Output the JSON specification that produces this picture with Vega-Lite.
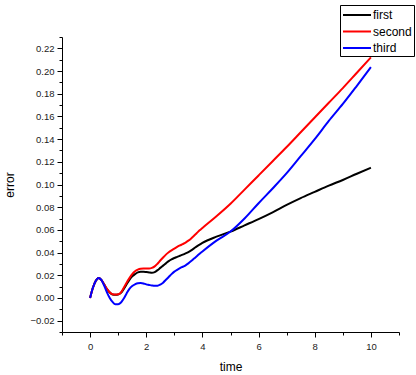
{
  "$schema": "https://vega.github.io/schema/vega-lite/v6.json",
  "width": 337,
  "height": 295,
  "autosize": "none",
  "padding": {"left": 62, "top": 37, "right": 17, "bottom": 43},
  "background": "white",
  "config": {"view": {"stroke": null}, "font": "Liberation Sans"},
  "data": {"values": [
    {"t": 0, "first": 0, "second": 0, "third": 0},
    {"t": 0.1, "first": 0.009, "second": 0.009, "third": 0.009},
    {"t": 0.2, "first": 0.015, "second": 0.015, "third": 0.015},
    {"t": 0.3, "first": 0.0177, "second": 0.0177, "third": 0.0177},
    {"t": 0.4, "first": 0.016, "second": 0.016, "third": 0.016},
    {"t": 0.5, "first": 0.012, "second": 0.012, "third": 0.011},
    {"t": 0.6, "first": 0.0078, "second": 0.008, "third": 0.005},
    {"t": 0.7, "first": 0.0048, "second": 0.005, "third": 0.0},
    {"t": 0.8, "first": 0.003, "second": 0.0033, "third": -0.0035},
    {"t": 0.9, "first": 0.0028, "second": 0.003, "third": -0.0055},
    {"t": 1.0, "first": 0.003, "second": 0.0032, "third": -0.0055},
    {"t": 1.1, "first": 0.0045, "second": 0.005, "third": -0.004},
    {"t": 1.2, "first": 0.008, "second": 0.009, "third": -0.0005},
    {"t": 1.3, "first": 0.012, "second": 0.0135, "third": 0.004},
    {"t": 1.4, "first": 0.016, "second": 0.0175, "third": 0.008},
    {"t": 1.5, "first": 0.019, "second": 0.021, "third": 0.0105},
    {"t": 1.6, "first": 0.021, "second": 0.0235, "third": 0.012},
    {"t": 1.7, "first": 0.0225, "second": 0.025, "third": 0.013},
    {"t": 1.8, "first": 0.023, "second": 0.0258, "third": 0.0132},
    {"t": 1.9, "first": 0.023, "second": 0.026, "third": 0.0128},
    {"t": 2.0, "first": 0.0228, "second": 0.026, "third": 0.012},
    {"t": 2.1, "first": 0.0225, "second": 0.026, "third": 0.0115},
    {"t": 2.2, "first": 0.0222, "second": 0.0265, "third": 0.011},
    {"t": 2.3, "first": 0.0228, "second": 0.0278, "third": 0.0107},
    {"t": 2.4, "first": 0.0245, "second": 0.0302, "third": 0.0108},
    {"t": 2.5, "first": 0.0265, "second": 0.033, "third": 0.0118},
    {"t": 2.6, "first": 0.0285, "second": 0.0357, "third": 0.0135},
    {"t": 2.7, "first": 0.0305, "second": 0.0382, "third": 0.016},
    {"t": 2.8, "first": 0.0325, "second": 0.0403, "third": 0.0185},
    {"t": 2.9, "first": 0.034, "second": 0.042, "third": 0.021},
    {"t": 3.0, "first": 0.0352, "second": 0.0435, "third": 0.0232},
    {"t": 3.1, "first": 0.0362, "second": 0.045, "third": 0.0248},
    {"t": 3.2, "first": 0.0372, "second": 0.0463, "third": 0.0262},
    {"t": 3.3, "first": 0.0382, "second": 0.0475, "third": 0.0275},
    {"t": 3.4, "first": 0.0393, "second": 0.0488, "third": 0.0288},
    {"t": 3.5, "first": 0.0405, "second": 0.0505, "third": 0.0305},
    {"t": 3.6, "first": 0.042, "second": 0.0525, "third": 0.0325},
    {"t": 3.7, "first": 0.0437, "second": 0.0548, "third": 0.0347},
    {"t": 3.8, "first": 0.0455, "second": 0.0572, "third": 0.0368},
    {"t": 3.9, "first": 0.047, "second": 0.0596, "third": 0.039},
    {"t": 4.0, "first": 0.0485, "second": 0.0617, "third": 0.041},
    {"t": 4.5, "first": 0.054, "second": 0.072, "third": 0.0505},
    {"t": 5.0, "first": 0.0585, "second": 0.083, "third": 0.0585},
    {"t": 5.5, "first": 0.064, "second": 0.0955, "third": 0.07},
    {"t": 6.0, "first": 0.0695, "second": 0.108, "third": 0.0835},
    {"t": 6.5, "first": 0.0755, "second": 0.1205, "third": 0.0965},
    {"t": 7.0, "first": 0.082, "second": 0.133, "third": 0.11},
    {"t": 7.5, "first": 0.088, "second": 0.146, "third": 0.125},
    {"t": 8.0, "first": 0.0935, "second": 0.159, "third": 0.14},
    {"t": 8.5, "first": 0.099, "second": 0.172, "third": 0.156},
    {"t": 9.0, "first": 0.104, "second": 0.185, "third": 0.171},
    {"t": 9.5, "first": 0.1095, "second": 0.1985, "third": 0.187},
    {"t": 10.0, "first": 0.1148, "second": 0.212, "third": 0.2034}
  ]},
  "transform": [{"fold": ["first", "second", "third"], "as": ["series", "v"]}],
  "mark": {"type": "line", "strokeWidth": 2, "interpolate": "monotone"},
  "encoding": {
    "x": {
      "field": "t", "type": "quantitative",
      "scale": {"domain": [-1, 11], "nice": false, "zero": false},
      "axis": {
        "title": "time",
        "values": [-1, 0, 1, 2, 3, 4, 5, 6, 7, 8, 9, 10, 11],
        "labelExpr": "datum.value % 2 === 0 ? format(datum.value, 'd') : ''",
        "grid": false,
        "domainColor": "black",
        "tickColor": "black",
        "tickSize": {"condition": {"test": "datum.value % 2 !== 0", "value": 3}, "value": 5},
        "labelFontSize": 9.5,
        "labelColor": "#222222",
        "labelPadding": 4,
        "labelOverlap": false,
        "labelFlush": false,
        "titleFontSize": 12,
        "titleFontWeight": "normal",
        "titleColor": "black",
        "titlePadding": 11
      }
    },
    "y": {
      "field": "v", "type": "quantitative",
      "scale": {"domain": [-0.03, 0.23], "nice": false, "zero": false},
      "axis": {
        "title": "error",
        "values": [-0.03, -0.02, -0.01, 0, 0.01, 0.02, 0.03, 0.04, 0.05, 0.06, 0.07, 0.08, 0.09, 0.1, 0.11, 0.12, 0.13, 0.14, 0.15, 0.16, 0.17, 0.18, 0.19, 0.2, 0.21, 0.22, 0.23],
        "labelExpr": "abs(round(datum.value*100)) % 2 === 0 ? format(datum.value, '.2f') : ''",
        "grid": false,
        "domainColor": "black",
        "tickColor": "black",
        "tickSize": {"condition": {"test": "abs(round(datum.value*100)) % 2 === 1", "value": 3}, "value": 5},
        "labelFontSize": 9.5,
        "labelColor": "#222222",
        "labelPadding": 3,
        "labelOverlap": false,
        "labelFlush": false,
        "titleFontSize": 12,
        "titleFontWeight": "normal",
        "titleColor": "black",
        "titlePadding": 13
      }
    },
    "color": {
      "field": "series", "type": "nominal",
      "scale": {"domain": ["first", "second", "third"], "range": ["#000000", "#ff0000", "#0000ff"]},
      "legend": {
        "orient": "none",
        "legendX": 278,
        "legendY": -32,
        "title": null,
        "strokeColor": "black",
        "fillColor": "white",
        "padding": 2,
        "symbolType": "M-2,0H2",
        "symbolSize": 196,
        "symbolOffset": 7,
        "symbolStrokeWidth": 2,
        "labelFontSize": 12,
        "labelOffset": 8,
        "labelColor": "black",
        "rowPadding": 2.5
      }
    }
  }
}
